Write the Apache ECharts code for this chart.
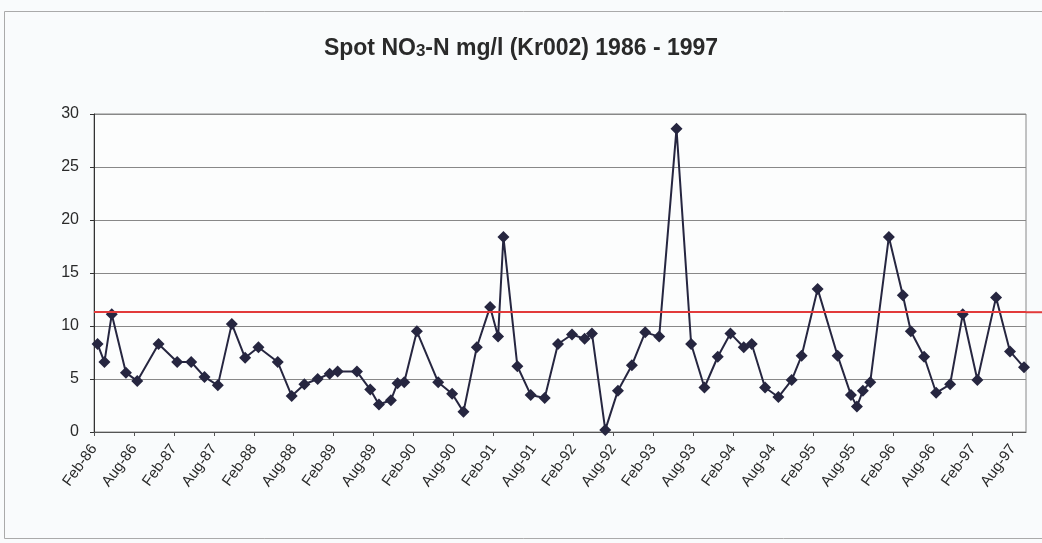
<!DOCTYPE html>
<html>
<head>
<meta charset="utf-8">
<script src="https://cdn.jsdelivr.net/npm/echarts@6/dist/echarts.min.js"></script>
<style>
  html, body { margin: 0; padding: 0; background: #f9fbfc; }
  #chart { width: 1042px; height: 543px; }
</style>
</head>
<body>
<div id="chart"></div>
<script>
'use strict';

// sampling dates of the spot samples
const sampleDates = [
  '1986-02-17', '1986-03-18', '1986-04-21', '1986-06-25', '1986-08-16', '1986-11-22', '1987-02-16', '1987-04-19', '1987-06-19', '1987-08-19',
  '1987-10-22', '1987-12-22', '1988-02-22', '1988-05-19', '1988-07-22', '1988-09-19', '1988-11-19', '1989-01-13', '1989-02-19', '1989-05-16',
  '1989-07-16', '1989-08-25', '1989-10-19', '1989-11-19', '1989-12-19', '1990-02-16', '1990-05-22', '1990-07-25', '1990-09-16', '1990-11-16',
  '1991-01-16', '1991-02-22', '1991-03-16', '1991-05-19', '1991-07-19', '1991-09-22', '1991-11-22', '1992-01-25', '1992-03-22', '1992-04-25',
  '1992-06-25', '1992-08-22', '1992-10-25', '1992-12-25', '1993-02-28', '1993-05-16', '1993-07-22', '1993-09-22', '1993-11-22', '1994-01-19',
  '1994-03-19', '1994-04-25', '1994-06-25', '1994-08-25', '1994-10-25', '1994-12-10', '1995-02-22', '1995-05-22', '1995-07-22', '1995-08-19',
  '1995-09-16', '1995-10-19', '1996-01-13', '1996-03-16', '1996-04-22', '1996-06-22', '1996-08-16', '1996-10-19', '1996-12-16', '1997-02-22',
  '1997-05-16', '1997-07-19', '1997-09-22'
];

// NO3-N mg/l
const no3Values = [
  8.3, 6.6, 11.1, 5.6, 4.8, 8.3, 6.6, 6.6, 5.2, 4.4,
  10.2, 7.0, 8.0, 6.6, 3.4, 4.5, 5.0, 5.5, 5.7, 5.7,
  4.0, 2.6, 3.0, 4.6, 4.7, 9.5, 4.7, 3.6, 1.9, 8.0,
  11.8, 9.0, 18.4, 6.2, 3.5, 3.2, 8.3, 9.2, 8.8, 9.3,
  0.2, 3.9, 6.3, 9.4, 9.0, 28.6, 8.3, 4.2, 7.1, 9.3,
  8.0, 8.3, 4.2, 3.3, 4.9, 7.2, 13.5, 7.2, 3.5, 2.4,
  3.9, 4.7, 18.4, 12.9, 9.5, 7.1, 3.7, 4.5, 11.1, 4.9,
  12.7, 7.6, 6.1
];

const tickLabels = [
  'Feb-86', 'Aug-86', 'Feb-87', 'Aug-87', 'Feb-88', 'Aug-88', 'Feb-89', 'Aug-89',
  'Feb-90', 'Aug-90', 'Feb-91', 'Aug-91', 'Feb-92', 'Aug-92', 'Feb-93', 'Aug-93',
  'Feb-94', 'Aug-94', 'Feb-95', 'Aug-95', 'Feb-96', 'Aug-96', 'Feb-97', 'Aug-97'
];

const limitValue = 11.3;

// months elapsed since 1 Feb 1986
function monthsSinceStart(dateStr) {
  const parts = dateStr.split('-').map(Number);
  return (parts[0] - 1986) * 12 + (parts[1] - 2) + (parts[2] - 1) / 30;
}

const chartData = sampleDates.map(function(d, i) {
  return [monthsSinceStart(d), no3Values[i]];
});

const chart = echarts.init(document.getElementById('chart'));

const option = {
  backgroundColor: '#f9fbfc',
  animation: false,
  title: {
    left: 'center',
    top: 32,
    text: '{a|Spot NO}{s|3}{a|-N mg/l (Kr002) 1986 - 1997}',
    textStyle: {
      rich: {
        a: { fontFamily: 'Liberation Sans', fontWeight: 'bold', fontSize: 23, color: '#2a2a2a' },
        s: { fontFamily: 'Liberation Sans', fontWeight: 'bold', fontSize: 17, color: '#2a2a2a', padding: [5, 0, 0, 0] }
      }
    }
  },
  grid: {
    left: 94, right: 16, top: 114, bottom: 111,
    show: true,
    backgroundColor: '#fcfdfd',
    borderColor: '#888',
    borderWidth: 1
  },
  xAxis: {
    type: 'value',
    min: 0,
    max: 140,
    interval: 6,
    splitLine: { show: false },
    axisLine: { lineStyle: { color: '#555', width: 1 } },
    axisTick: { show: true, length: 4, lineStyle: { color: '#555' } },
    axisLabel: {
      rotate: 54,
      margin: 14,
      fontFamily: 'Liberation Sans',
      fontSize: 15,
      color: '#2a2a2a',
      showMaxLabel: false,
      formatter: function(m) {
        if (m % 6 !== 0) return '';
        return tickLabels[m / 6] || '';
      }
    }
  },
  yAxis: {
    type: 'value',
    min: 0,
    max: 30,
    interval: 5,
    axisLine: { show: true, lineStyle: { color: '#333', width: 1 } },
    axisTick: { show: true, length: 4, lineStyle: { color: '#333' } },
    splitLine: { lineStyle: { color: '#888', width: 1 } },
    axisLabel: {
      margin: 15,
      fontFamily: 'Liberation Sans',
      fontSize: 16,
      color: '#2a2a2a'
    }
  },
  series: [{
    type: 'line',
    data: chartData,
    symbol: 'diamond',
    symbolSize: 12,
    lineStyle: { color: '#262640', width: 2 },
    itemStyle: { color: '#262640' },
    markLine: {
      silent: true,
      symbol: 'none',
      label: { show: false },
      lineStyle: { color: '#e23b3b', width: 2, type: 'solid' },
      data: [{ yAxis: limitValue }]
    }
  }]
};

chart.setOption(option);

// the red limit line runs on past the plot frame to the edge of the picture
const limitY = chart.convertToPixel({ yAxisIndex: 0 }, limitValue);
const plotRight = chart.convertToPixel({ xAxisIndex: 0 }, 140);
chart.setOption({
  graphic: [
    {
      type: 'line',
      shape: { x1: plotRight, y1: limitY, x2: 1042, y2: limitY },
      style: { stroke: '#e23b3b', lineWidth: 2 }
    },
    {
      type: 'rect',
      shape: { x: 4.5, y: 11.5, width: 1045, height: 527 },
      style: { fill: 'none', stroke: '#aaa', lineWidth: 1 },
      silent: true
    }
  ]
});
</script>
</body>
</html>
